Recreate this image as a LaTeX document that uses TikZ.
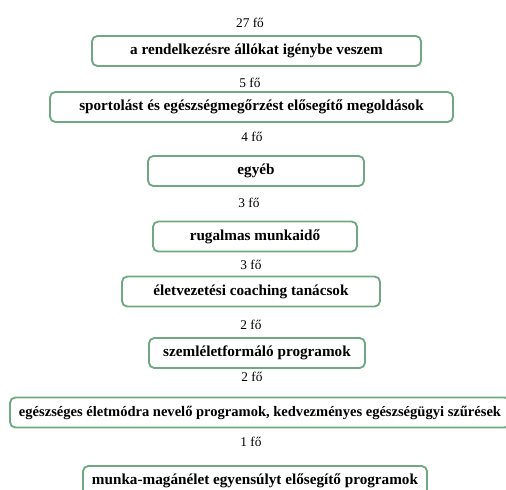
\documentclass[tikz,border=0pt]{standalone}
\usepackage{fontspec}
\setmainfont{Liberation Serif}
\usetikzlibrary{positioning}

\definecolor{boxgreen}{RGB}{112,168,132}

\tikzset{
  answer/.style={draw=boxgreen, line width=1.4pt, rounded corners=4pt,
    minimum height=22.5pt, inner sep=2pt, font=\bfseries\fontsize{11.4}{13}\selectfont},
  count/.style={inner sep=1pt, font=\fontsize{10}{12}\selectfont}
}

\begin{document}
\begin{tikzpicture}[x=0.75pt, y=-0.75pt]

  \useasboundingbox (0,0) rectangle (506,489);
  \clip (0,0) rectangle (506,489);

  % Igenybe veszem
  \node[count] (c1) at (250,23) {27 fő};
  \node[answer, minimum width=246.75pt] (a1) at (256.5,51) {a rendelkezésre állókat igénybe veszem};

  % Sport
  \node[count] (c2) at (250,83) {5 fő};
  \node[answer, minimum width=302.25pt] (a2) at (251.5,107) {sportolást és egészségmegőrzést elősegítő megoldások};

  % Egyeb
  \node[count] (c3) at (252,137) {4 fő};
  \node[answer, minimum width=162pt] (a3) at (256,171) {egyéb};

  % Rugalmas
  \node[count] (c4) at (249,203) {3 fő};
  \node[answer, minimum width=153pt] (a4) at (255,236.5) {rugalmas munkaidő};

  % Coaching
  \node[count] (c5) at (251,265) {3 fő};
  \node[answer, minimum width=193.5pt] (a5) at (251,291.5) {életvezetési coaching tanácsok};

  % Szemleletformalo
  \node[count] (c6) at (251,325) {2 fő};
  \node[answer, minimum width=162pt] (a6) at (257,353) {szemléletformáló programok};

  % Egeszseges eletmod (box runs past the right edge)
  \node[count] (c7) at (252,377) {2 fő};
  \node[answer, minimum width=375pt, font=\bfseries\fontsize{10.9}{13}\selectfont] (a7) at (260,412.5) {egészséges életmódra nevelő programok, kedvezményes egészségügyi szűrések};

  % Munka-maganelet
  \node[count] (c8) at (251,442) {1 fő};
  \node[answer, minimum width=258pt] (a8) at (255,481) {munka-magánélet egyensúlyt elősegítő programok};

\end{tikzpicture}
\end{document}
